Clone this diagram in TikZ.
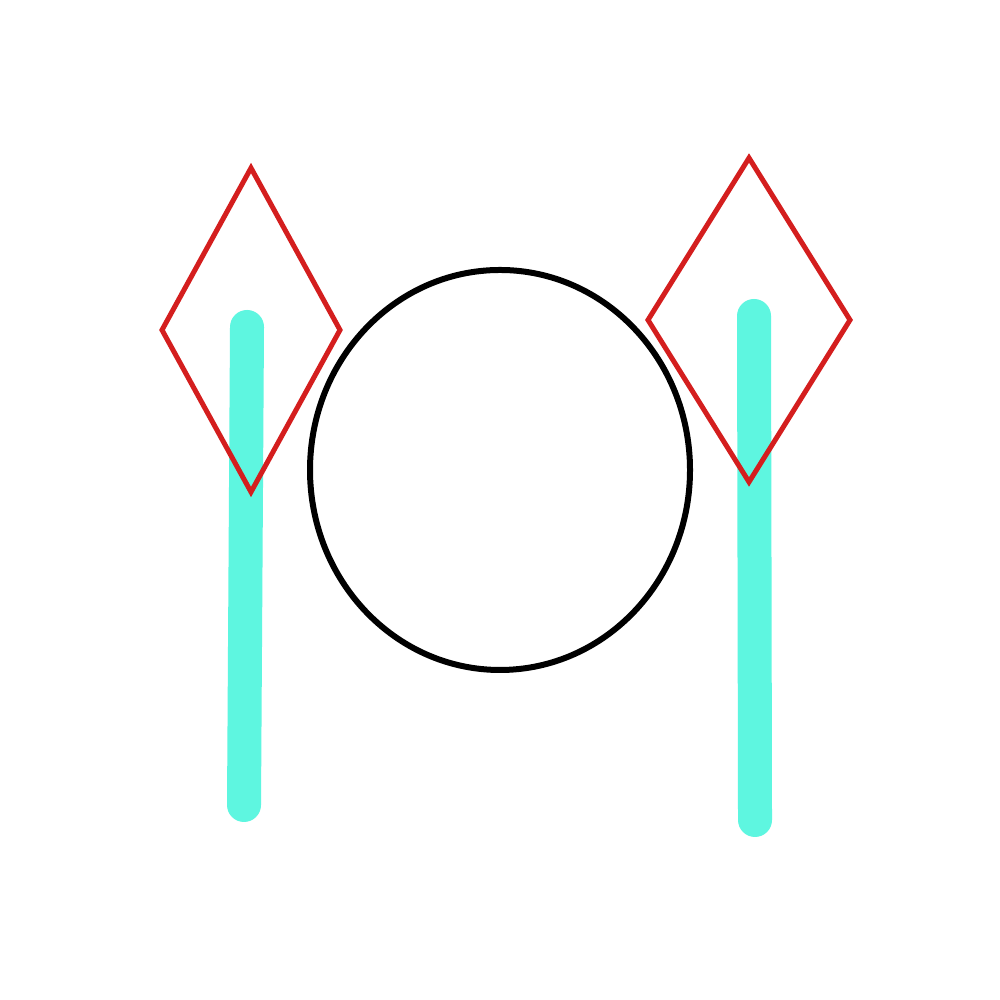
\documentclass[tikz,border=0pt]{standalone}
\usepackage{tikz}
\usetikzlibrary{calc}

\definecolor{poleCyan}{RGB}{94,246,224}
\definecolor{flagRed}{RGB}{212,30,30}

\tikzset{
	pole/.style = {line width = 3.4mm, color = poleCyan, line cap = round},
	flag/.style = {line width = 0.5mm, draw = flagRed, line join = miter}
}

\begin{document}
\begin{tikzpicture}

	% frame
	\useasboundingbox (0,0) rectangle (10,10);
	\fill [white] (0,0) rectangle (10,10);

	% left pole
	\coordinate (leftPoleTop) at (2.47,6.73);
	\coordinate (leftPoleBottom) at (2.44,1.95);
	\draw [pole] (leftPoleTop) -- (leftPoleBottom);

	% right pole
	\coordinate (rightPoleTop) at (7.54,6.84);
	\coordinate (rightPoleBottom) at (7.55,1.80);
	\draw [pole] (rightPoleTop) -- (rightPoleBottom);

	% left flag
	\def \flagHalfHeight {1.62};
	\def \leftHalfWidth {0.89};
	\coordinate (leftFlag) at (2.51,6.70);
	\draw [flag] ($(leftFlag) + (0,\flagHalfHeight)$) -- ($(leftFlag) + (\leftHalfWidth,0)$) -- ($(leftFlag) + (0,-\flagHalfHeight)$) -- ($(leftFlag) + (-\leftHalfWidth,0)$) -- cycle;

	% right flag
	\def \rightHalfWidth {1.01};
	\coordinate (rightFlag) at (7.49,6.80);
	\draw [flag] ($(rightFlag) + (0,\flagHalfHeight)$) -- ($(rightFlag) + (\rightHalfWidth,0)$) -- ($(rightFlag) + (0,-\flagHalfHeight)$) -- ($(rightFlag) + (-\rightHalfWidth,0)$) -- cycle;

	% ball
	\coordinate (ballCentre) at (5.00,5.30);
	\draw [line width = 0.6mm] (ballCentre) ellipse (1.90 and 2.00);

\end{tikzpicture}
\end{document}
